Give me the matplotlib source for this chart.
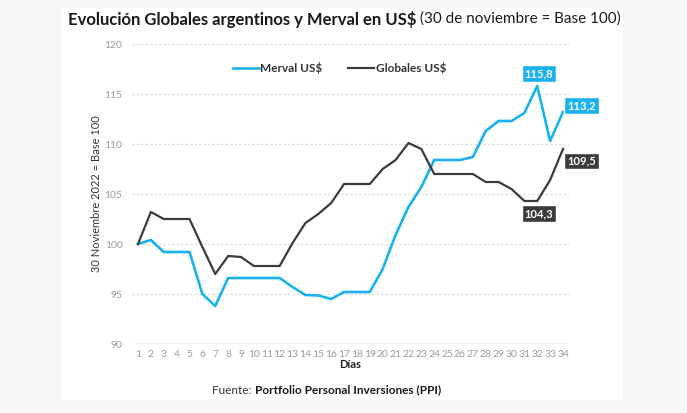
import matplotlib.pyplot as plt

dias = list(range(1, 35))
merval = [100, 100.4, 99.2, 99.2, 99.2, 95.0, 93.8, 96.6, 96.6, 96.6,
          96.6, 96.6, 95.7, 94.9, 94.85, 94.5, 95.2, 95.2, 95.2, 97.5,
          100.9, 103.7, 105.7, 108.4, 108.4, 108.4, 108.7, 111.3, 112.3, 112.3,
          113.1, 115.8, 110.3, 113.2]
globales = [100, 103.2, 102.5, 102.5, 102.5, 99.7, 97.0, 98.8, 98.7, 97.8,
            97.8, 97.8, 100.1, 102.1, 103.0, 104.1, 106.0, 106.0, 106.0, 107.5,
            108.4, 110.1, 109.5, 107.0, 107.0, 107.0, 107.0, 106.2, 106.2, 105.5,
            104.3, 104.3, 106.4, 109.5]
yticks = [90, 95, 100, 105, 110, 115, 120]

CYAN = '#1ab2ee'
DARK = '#3b3b3b'
FONT = ['Lato', 'DejaVu Sans']
plt.rcParams['font.family'] = FONT

fig = plt.figure(figsize=(6.87, 4.13), dpi=100, facecolor='#f6f6f6')
# white card behind everything
fig.patches.append(plt.Rectangle((61 / 687, 1 - 400 / 413), 562 / 687, 392 / 413,
                                 transform=fig.transFigure, facecolor='white',
                                 edgecolor='none', zorder=-10))

ax = fig.add_axes([132.2 / 687, 69 / 413, 436.6 / 687, 300 / 413])
ax.set_facecolor('none')
ax.plot(dias, merval, color=CYAN, lw=1.9, label='Merval US$', zorder=3)
ax.plot(dias, globales, color=DARK, lw=1.6, label='Globales US$', zorder=3)

ax.set_xlim(0.55, 34.45)
ax.set_ylim(90, 120)
ax.set_yticks(yticks)
ax.set_xticks(dias)
ax.tick_params(length=0, labelsize=7.5, colors='#9a9a9a', pad=4)
ax.tick_params(axis='y', pad=7)
for s in ax.spines.values():
    s.set_visible(False)
for t in yticks[1:]:
    ax.axhline(t, color='#d9d9d9', lw=0.8, ls=(0, (2, 2)), zorder=1)
ax.axhline(90, color='#d9d9d9', lw=1, zorder=1)

ax.set_ylabel('30 Noviembre 2022 = Base 100', fontsize=8, color='#333333', labelpad=2)
ax.set_xlabel('Días', fontsize=8, fontweight='bold', color='#222222', labelpad=0)

leg = ax.legend(loc='upper center', bbox_to_anchor=(0.475, 0.975), ncol=2, frameon=False,
                fontsize=8.5, handlelength=2.2, handletextpad=0.1, columnspacing=2.2)
for t in leg.get_texts():
    t.set_fontweight('bold')
    t.set_color('#333333')

def tag(x, y, text, color, dx, dy, ha):
    ax.annotate(text, (x, y), xytext=(dx, dy), textcoords='offset points',
                ha=ha, va='center', fontsize=8, fontweight='bold', color='white',
                bbox=dict(boxstyle='square,pad=0.25', fc=color, ec='white', lw=1),
                zorder=5)

tag(32, merval[31], '115,8', CYAN, 1, 9, 'center')
tag(34, merval[33], '113,2', CYAN, 3, 4.5, 'left')
tag(34, globales[33], '109,5', DARK, 3, -8.5, 'left')
tag(32, globales[31], '104,3', DARK, 1, -9, 'center')

# title: bold part followed by regular part
r = fig.canvas.get_renderer()
t1 = fig.text(68 / 687, 1 - 19 / 413, 'Evolución Globales argentinos y Merval en US$',
              fontsize=12, fontweight='bold', color='#1a1a1a', va='center')
bb = t1.get_window_extent(renderer=r)
fig.text((bb.x1 + 4) / 687, 1 - 19 / 413, '(30 de noviembre = Base 100)',
         fontsize=11, color='#1a1a1a', va='center', ha='left')

fig.text(255 / 687, 1 - 390 / 413, 'Fuente: ', fontsize=8.5, color='#333333', va='center', ha='right')
fig.text(255 / 687, 1 - 390 / 413, 'Portfolio Personal Inversiones (PPI)', fontsize=8.5,
         fontweight='bold', color='#1a1a1a', va='center', ha='left')

fig.savefig('out.png', dpi=100, facecolor=fig.get_facecolor())
